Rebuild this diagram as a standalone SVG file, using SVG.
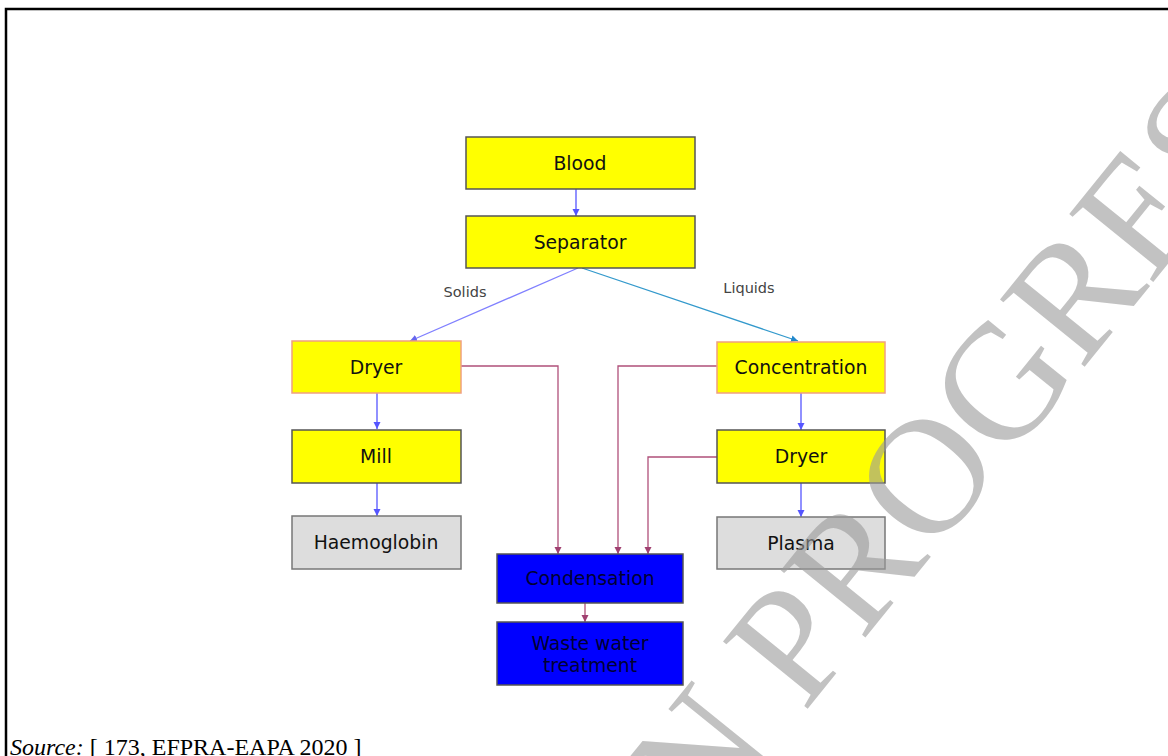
<svg xmlns="http://www.w3.org/2000/svg" width="1168" height="756" viewBox="0 0 1168 756">
<style>
.box{stroke-width:1.5}
.y{fill:#ffff00;stroke:#555555}
.yo{fill:#ffff00;stroke:#f0a080}
.g{fill:#dddddd;stroke:#777777}
.b{fill:#0000ff;stroke:#555555}
.t{font-family:"DejaVu Sans",Verdana,sans-serif;font-size:18.8px;fill:#111111;text-anchor:middle}
.lbl{font-family:"DejaVu Sans",Verdana,sans-serif;font-size:14.5px;fill:#444444;text-anchor:middle}
.c{fill:none;stroke-width:1.3}
.cb{stroke:#5555ff}
.cv{stroke:#8080ff}
.cl{stroke:#3399cc}
.cp{stroke:#b0507a}
</style>
<defs>
<marker id="ab" markerUnits="userSpaceOnUse" markerWidth="8" markerHeight="8" refX="7" refY="4" orient="auto"><path d="M0,0.5 L7,4 L0,7.5 z" fill="#5555ff"/></marker>
<marker id="av" markerUnits="userSpaceOnUse" markerWidth="8" markerHeight="8" refX="7" refY="4" orient="auto"><path d="M0,0.5 L7,4 L0,7.5 z" fill="#6666ee"/></marker>
<marker id="al" markerUnits="userSpaceOnUse" markerWidth="8" markerHeight="8" refX="7" refY="4" orient="auto"><path d="M0,0.5 L7,4 L0,7.5 z" fill="#2288cc"/></marker>
<marker id="ap" markerUnits="userSpaceOnUse" markerWidth="8" markerHeight="8" refX="7" refY="4" orient="auto"><path d="M0,0.5 L7,4 L0,7.5 z" fill="#a04070"/></marker>
</defs>
<rect x="0" y="0" width="1168" height="756" fill="#ffffff"/>
<path d="M6,756 V9 H1168" fill="none" stroke="#000000" stroke-width="2.5"/>

<g id="connectors">
<path class="c cb" d="M576,189 V216" marker-end="url(#ab)"/>
<path class="c cv" d="M578,268 L410,341" marker-end="url(#av)"/>
<path class="c cl" d="M582,268 L798,341" marker-end="url(#al)"/>
<path class="c cb" d="M377,393 V429" marker-end="url(#ab)"/>
<path class="c cb" d="M377,483 V516" marker-end="url(#ab)"/>
<path class="c cb" d="M801,393 V430" marker-end="url(#ab)"/>
<path class="c cb" d="M801,483 V517" marker-end="url(#ab)"/>
<path class="c cp" d="M461,366 H558 V554" marker-end="url(#ap)"/>
<path class="c cp" d="M717,366 H618 V554" marker-end="url(#ap)"/>
<path class="c cp" d="M717,457 H648 V554" marker-end="url(#ap)"/>
<path class="c cp" d="M585,603 V622" marker-end="url(#ap)"/>
<text class="lbl" x="465" y="297">Solids</text>
<text class="lbl" x="749" y="293">Liquids</text>
</g>

<g id="blood"><rect class="box y" x="466" y="137" width="229" height="52"/><text class="t" x="580" y="170">Blood</text></g>
<g id="separator"><rect class="box y" x="466" y="216" width="229" height="52"/><text class="t" x="580" y="249">Separator</text></g>
<g id="dryer-left"><rect class="box yo" x="292" y="341" width="169" height="52"/><text class="t" x="376" y="374">Dryer</text></g>
<g id="mill"><rect class="box y" x="292" y="430" width="169" height="53"/><text class="t" x="376" y="463">Mill</text></g>
<g id="haemoglobin"><rect class="box g" x="292" y="516" width="169" height="53"/><text class="t" x="376" y="549">Haemoglobin</text></g>
<g id="concentration"><rect class="box yo" x="717" y="342" width="168" height="51"/><text class="t" x="801" y="374">Concentration</text></g>
<g id="dryer-right"><rect class="box y" x="717" y="430" width="168" height="53"/><text class="t" x="801" y="463">Dryer</text></g>
<g id="plasma"><rect class="box g" x="717" y="517" width="168" height="52"/><text class="t" x="801" y="550">Plasma</text></g>
<g id="condensation"><rect class="box b" x="497" y="554" width="186" height="49"/><text class="t" x="590" y="585" style="fill:#000033">Condensation</text></g>
<g id="waste-water"><rect class="box b" x="497" y="622" width="186" height="63"/><text class="t" x="590" y="650" style="fill:#000033">Waste water</text><text class="t" x="590" y="672" style="fill:#000033">treatment</text></g>

<text x="10" y="755" font-family="'Liberation Serif','Times New Roman',serif" font-size="24" fill="#000000"><tspan font-style="italic">Source:</tspan> [ 173, EFPRA-EAPA 2020 ]</text>

<g id="watermark"><text transform="translate(703,838) rotate(-51)" font-family="'Liberation Serif','Times New Roman',serif" font-size="165" fill="#999999" fill-opacity="0.6">N PROGRESS</text></g>
</svg>
